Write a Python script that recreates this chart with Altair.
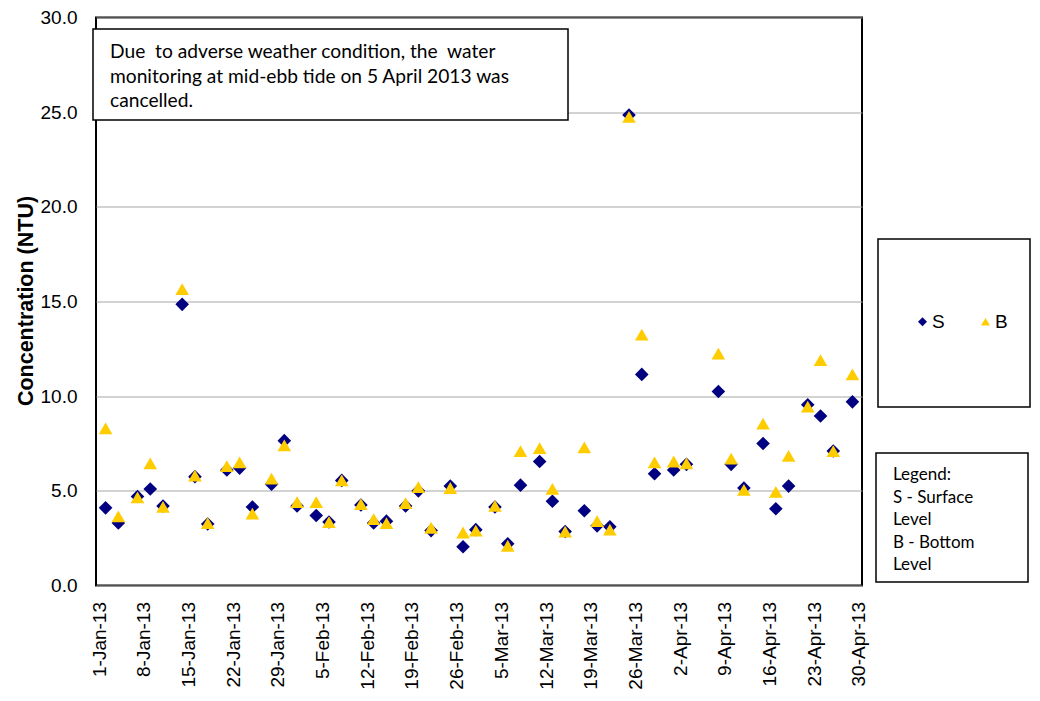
import altair as alt
import pandas as pd

dates = [
    "2013-01-02", "2013-01-04", "2013-01-07", "2013-01-09", "2013-01-11", "2013-01-14",
    "2013-01-16", "2013-01-18", "2013-01-21", "2013-01-23", "2013-01-25", "2013-01-28",
    "2013-01-30", "2013-02-01", "2013-02-04", "2013-02-06", "2013-02-08", "2013-02-11",
    "2013-02-13", "2013-02-15", "2013-02-18", "2013-02-20", "2013-02-22", "2013-02-25",
    "2013-02-27", "2013-03-01", "2013-03-04", "2013-03-06", "2013-03-08", "2013-03-11",
    "2013-03-13", "2013-03-15", "2013-03-18", "2013-03-20", "2013-03-22", "2013-03-25",
    "2013-03-27", "2013-03-29", "2013-04-01", "2013-04-03", "2013-04-08", "2013-04-10",
    "2013-04-12", "2013-04-15", "2013-04-17", "2013-04-19", "2013-04-22", "2013-04-24",
    "2013-04-26", "2013-04-29",
]
surface = [
    4.1, 3.3, 4.7, 5.1, 4.2, 14.85, 5.75, 3.25, 6.1, 6.2, 4.15, 5.35,
    7.65, 4.2, 3.7, 3.35, 5.55, 4.25, 3.3, 3.4, 4.2, 5.0, 2.9, 5.25,
    2.05, 2.95, 4.15, 2.2, 5.3, 6.55, 4.45, 2.85, 3.95, 3.15, 3.1, 24.85,
    11.15, 5.9, 6.1, 6.4, 10.25, 6.4, 5.15, 7.5, 4.05, 5.25, 9.55, 8.95,
    7.1, 9.7,
]
bottom = [
    8.3, 3.65, 4.65, 6.45, 4.15, 15.65, 5.8, 3.3, 6.3, 6.5, 3.8, 5.65,
    7.4, 4.4, 4.4, 3.35, 5.55, 4.3, 3.5, 3.3, 4.35, 5.2, 3.05, 5.15,
    2.8, 2.9, 4.2, 2.1, 7.1, 7.25, 5.1, 2.85, 7.3, 3.4, 2.95, 24.75,
    13.25, 6.5, 6.55, 6.45, 12.25, 6.7, 5.05, 8.55, 4.95, 6.85, 9.45, 11.9,
    7.1, 11.15,
]
series = ["S", "B"]
series_colors = ["#000080", "#FFCC00"]
series_shapes = ["diamond", "triangle-up"]
y_ticks = [0, 5, 10, 15, 20, 25, 30]
# (month, day) of each x tick: 1-Jan-13, 8-Jan-13, ... 30-Apr-13
x_tick_dates = [
    (1, 1), (1, 8), (1, 15), (1, 22), (1, 29), (2, 5), (2, 12), (2, 19), (2, 26),
    (3, 5), (3, 12), (3, 19), (3, 26), (4, 2), (4, 9), (4, 16), (4, 23), (4, 30),
]

note_lines = [
    "Due \u00a0to adverse weather condition, the \u00a0water",
    "monitoring at mid-ebb tide on 5 April 2013 was",
    "cancelled.",
]
legend_lines = ["Legend:", "S - Surface", "Level", "B - Bottom", "Level"]

df = pd.DataFrame(
    {
        "date": dates + dates,
        "value": surface + bottom,
        "series": ["S"] * len(dates) + ["B"] * len(dates),
    }
)

x_values = [alt.DateTime(year=2013, month=m, date=d, utc=True) for m, d in x_tick_dates]

W, H = 766, 568
AX_FONT = "Liberation Sans"
TXT_FONT = "Lato"

legend_kw = dict(
    orient="none",
    legendX=817,
    legendY=294.5,
    direction="horizontal",
    title=None,
    labelFont=AX_FONT,
    labelFontSize=19,
    labelColor="black",
    symbolSize=80,
    symbolStrokeWidth=0,
    labelOffset=0,
    columnPadding=31,
)

points = alt.Chart(df).mark_point(filled=True, size=185, opacity=1, strokeWidth=0).encode(
    x=alt.X(
        "date:T",
        scale=alt.Scale(
            type="utc",
            domain=[
                alt.DateTime(year=2012, month=12, date=31, hours=12, utc=True),
                alt.DateTime(year=2013, month=4, date=30, hours=12, utc=True),
            ],
        ),
        axis=alt.Axis(
            values=x_values,
            labelExpr="utcFormat(datum.value, '%-d-%b-%y')",
            labelAngle=270,
            labelFont=AX_FONT,
            labelFontSize=19,
            labelColor="black",
            labelPadding=16,
            ticks=False,
            tickSize=0,
            domain=False,
            grid=False,
            title=None,
            labelOverlap=False,
        ),
    ),
    y=alt.Y(
        "value:Q",
        scale=alt.Scale(domain=[0, 30], nice=False, zero=True),
        axis=alt.Axis(
            values=y_ticks,
            format=".1f",
            labelFont=AX_FONT,
            labelFontSize=19,
            labelColor="black",
            labelPadding=19,
            ticks=False,
            tickSize=0,
            domain=False,
            grid=True,
            gridColor="#A6A6A6",
            gridWidth=1,
            title="Concentration (NTU)",
            titleFont=AX_FONT,
            titleFontSize=21.5,
            titleFontWeight="bold",
            titleColor="black",
            titleAngle=270,
            titleAlign="center",
            titleBaseline="alphabetic",
            titleX=-64,
            titleY=283,
        ),
    ),
    color=alt.Color(
        "series:N",
        scale=alt.Scale(domain=series, range=series_colors),
        legend=alt.Legend(**legend_kw),
    ),
    shape=alt.Shape(
        "series:N",
        scale=alt.Scale(domain=series, range=series_shapes),
        legend=alt.Legend(**legend_kw),
    ),
)

note_box = alt.Chart().mark_rect(fill="white", stroke="black", strokeWidth=1.5).encode(
    x=alt.value(-3), x2=alt.value(472), y=alt.value(11.5), y2=alt.value(102.5)
)
note_text = alt.Chart().mark_text(
    align="left", baseline="middle", font=TXT_FONT, fontSize=19.2, lineHeight=24.5, color="black"
).encode(x=alt.value(14), y=alt.value(34.5), text=alt.value(note_lines))

legend_box = alt.Chart().mark_rect(fill="white", stroke="black", strokeWidth=1.5).encode(
    x=alt.value(782), x2=alt.value(934), y=alt.value(221.5), y2=alt.value(389.5)
)
key_box = alt.Chart().mark_rect(fill="white", stroke="black", strokeWidth=1.5).encode(
    x=alt.value(780), x2=alt.value(932), y=alt.value(435.5), y2=alt.value(564.5)
)
key_text = alt.Chart().mark_text(
    align="left", baseline="middle", font=TXT_FONT, fontSize=17, lineHeight=22.5, color="black"
).encode(x=alt.value(797), y=alt.value(457.5), text=alt.value(legend_lines))

chart = (
    alt.layer(legend_box, key_box, key_text, points, note_box, note_text)
    .properties(
        width=W,
        height=H,
        autosize=alt.AutoSizeParams(type="none"),
        padding={"left": 88, "top": 9.5, "right": 170, "bottom": 107.5},
        background="white",
    )
    .configure_view(stroke="black", strokeWidth=2)
)

chart.save("out.html", embed_options={"renderer": "svg", "actions": False})
